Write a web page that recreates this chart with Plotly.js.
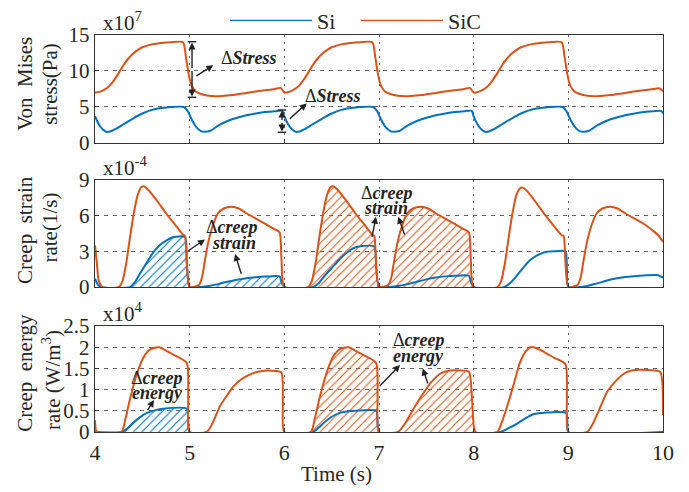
<!DOCTYPE html>
<html>
<head>
<meta charset="utf-8">
<script src="https://cdn.plot.ly/plotly-3.0.1.min.js"></script>
<style>html,body{margin:0;padding:0;background:#fff;}#chart{width:689px;height:492px;}</style>
</head>
<body>
<div id="chart"></div>
<script>
// ---------- DATA ----------
// Von Mises stress (x1e7 Pa)
const tSiCStress = [4.00,4.05,4.10,4.15,4.20,4.25,4.30,4.35,4.40,4.45,4.50,4.60,4.70,4.80,4.93,4.96,4.99,5.02,5.06,5.12,5.20,5.30,5.45,5.60,5.75,5.90,5.96,
  6.00,6.05,6.10,6.15,6.20,6.25,6.30,6.35,6.40,6.45,6.50,6.60,6.70,6.80,6.93,6.96,6.99,7.02,7.06,7.12,7.20,7.30,7.45,7.60,7.75,7.90,7.96,
  8.00,8.05,8.10,8.15,8.20,8.25,8.30,8.35,8.40,8.45,8.50,8.60,8.70,8.80,8.93,8.96,8.99,9.02,9.06,9.12,9.20,9.30,9.45,9.60,9.75,9.90,9.96,10.00];
const sicStress = [7.0,7.1,7.4,7.9,8.7,9.7,10.8,11.7,12.4,12.9,13.3,13.7,13.9,14.0,14.0,12.0,9.5,8.0,7.2,6.8,6.55,6.5,6.65,6.95,7.25,7.5,7.65,
  7.0,7.1,7.4,7.9,8.7,9.7,10.8,11.7,12.4,12.9,13.3,13.7,13.9,14.0,14.0,12.0,9.5,8.0,7.2,6.8,6.55,6.5,6.65,6.95,7.25,7.5,7.65,
  7.0,7.1,7.4,7.9,8.7,9.7,10.8,11.7,12.4,12.9,13.3,13.7,13.9,14.0,14.0,12.0,9.5,8.0,7.2,6.8,6.55,6.5,6.65,6.95,7.25,7.5,7.6,7.2];
const tSiStress = [4.00,4.04,4.08,4.12,4.16,4.22,4.30,4.40,4.50,4.60,4.70,4.80,4.94,4.98,5.02,5.07,5.12,5.16,5.22,5.30,5.40,5.50,5.60,5.70,5.80,5.90,5.98,
  6.00,6.04,6.08,6.12,6.16,6.22,6.30,6.40,6.50,6.60,6.70,6.80,6.94,6.98,7.02,7.07,7.12,7.16,7.22,7.30,7.40,7.50,7.60,7.70,7.80,7.90,7.98,
  8.00,8.04,8.08,8.12,8.16,8.22,8.30,8.40,8.50,8.60,8.70,8.80,8.94,8.98,9.02,9.07,9.12,9.16,9.22,9.30,9.40,9.50,9.60,9.70,9.80,9.90,9.98,10.00];
const siStress = [3.7,2.6,1.9,1.55,1.6,1.95,2.6,3.4,4.1,4.6,4.85,5.0,5.0,4.4,3.3,2.2,1.65,1.55,1.7,2.4,3.05,3.5,3.85,4.1,4.3,4.42,4.47,
  3.7,2.6,1.9,1.55,1.6,1.95,2.6,3.4,4.1,4.6,4.85,5.0,5.0,4.4,3.3,2.2,1.65,1.55,1.7,2.4,3.05,3.5,3.85,4.1,4.3,4.42,4.47,
  3.7,2.6,1.9,1.55,1.6,1.95,2.6,3.4,4.1,4.6,4.85,5.0,5.0,4.4,3.3,2.2,1.65,1.55,1.7,2.4,3.05,3.5,3.85,4.1,4.3,4.42,4.45,4.1];

// Creep strain rate (x1e-4 1/s)
const tSiCStrain = [4.00,4.02,4.04,4.08,4.25,4.29,4.33,4.37,4.41,4.45,4.49,4.52,4.56,4.65,4.75,4.85,4.93,4.95,4.97,5.00,
  5.10,5.13,5.16,5.20,5.25,5.30,5.36,5.44,5.52,5.60,5.70,5.80,5.90,5.95,5.97,6.00,
  6.25,6.29,6.33,6.37,6.41,6.45,6.49,6.52,6.56,6.65,6.75,6.85,6.93,6.95,6.97,7.00,
  7.10,7.13,7.16,7.20,7.25,7.30,7.36,7.44,7.52,7.60,7.70,7.80,7.90,7.95,7.97,8.00,
  8.25,8.29,8.33,8.37,8.41,8.45,8.49,8.52,8.56,8.65,8.75,8.85,8.93,8.95,8.97,9.00,
  9.10,9.13,9.16,9.20,9.25,9.30,9.36,9.44,9.52,9.60,9.70,9.80,9.90,9.95,10.00];
const sicStrain = [3.5,2.0,0.5,0.0,0.0,0.5,2.0,4.2,6.2,7.7,8.4,8.45,8.2,7.3,6.2,5.2,4.4,4.3,2.0,0.0,
  0.2,0.8,2.2,3.9,5.3,6.2,6.6,6.75,6.6,6.2,5.75,5.3,4.85,4.6,2.3,0.0,
  0.0,0.5,2.0,4.2,6.2,7.7,8.4,8.45,8.2,7.3,6.2,5.2,4.4,4.3,2.0,0.0,
  0.2,0.8,2.2,3.9,5.3,6.2,6.6,6.75,6.6,6.2,5.75,5.3,4.85,4.6,2.3,0.0,
  0.0,0.5,2.0,4.2,6.2,7.7,8.3,8.35,8.1,7.2,6.1,5.1,4.35,4.3,2.0,0.0,
  0.2,0.8,2.2,3.9,5.3,6.2,6.6,6.75,6.6,6.2,5.75,5.3,4.7,4.35,3.8];
const tSiStrain = [4.00,4.03,4.06,4.37,4.42,4.48,4.55,4.61,4.68,4.76,4.83,4.95,4.97,5.00,
  5.10,5.20,5.30,5.40,5.50,5.60,5.70,5.80,5.95,5.97,6.00,
  6.30,6.36,6.42,6.50,6.58,6.66,6.74,6.82,6.95,6.97,7.00,
  7.10,7.20,7.30,7.40,7.50,7.60,7.70,7.80,7.95,7.97,8.00,
  8.32,8.38,8.45,8.52,8.60,8.68,8.76,8.85,8.97,8.985,9.00,
  9.12,9.20,9.30,9.41,9.50,9.60,9.69,9.80,9.95,10.00];
const siStrain = [0.7,0.2,0.0,0.0,0.4,1.2,2.1,2.85,3.5,3.95,4.2,4.2,2.0,0.0,
  0.0,0.1,0.25,0.45,0.62,0.75,0.83,0.88,0.9,0.45,0.0,
  0.0,0.3,0.9,1.6,2.3,2.9,3.3,3.45,3.4,1.7,0.0,
  0.0,0.1,0.25,0.45,0.65,0.8,0.9,0.95,0.95,0.45,0.0,
  0.0,0.3,0.9,1.6,2.3,2.7,2.95,3.0,3.0,1.5,0.0,
  0.0,0.1,0.3,0.55,0.72,0.85,0.92,0.98,1.0,0.8];

// Creep energy rate (x1e4 W/m^3)
const tSiCEnergy = [4.00,4.02,4.28,4.32,4.37,4.44,4.51,4.57,4.62,4.68,4.75,4.85,4.97,4.985,5.00,
  5.18,5.24,5.32,5.40,5.46,5.55,5.64,5.72,5.81,5.90,5.97,5.985,6.00,
  6.28,6.32,6.37,6.44,6.51,6.57,6.62,6.68,6.75,6.85,6.97,6.985,7.00,
  7.20,7.26,7.34,7.40,7.47,7.55,7.65,7.75,7.85,7.95,7.985,8.02,
  8.25,8.30,8.36,8.42,8.49,8.55,8.60,8.66,8.75,8.85,8.97,8.985,9.00,
  9.20,9.26,9.34,9.41,9.50,9.59,9.67,9.75,9.85,9.97,10.00];
const sicEnergy = [0.28,0.0,0.0,0.3,0.78,1.35,1.75,1.93,1.98,2.0,1.92,1.8,1.63,0.8,0.0,
  0.0,0.2,0.61,0.88,1.07,1.25,1.36,1.42,1.45,1.44,1.4,0.7,0.0,
  0.0,0.3,0.78,1.35,1.75,1.93,1.98,2.0,1.92,1.8,1.63,0.8,0.0,
  0.0,0.15,0.45,0.68,0.92,1.17,1.38,1.45,1.45,1.42,0.7,0.0,
  0.0,0.25,0.65,1.1,1.65,1.9,2.0,1.98,1.88,1.75,1.6,0.8,0.0,
  0.0,0.2,0.6,0.95,1.2,1.38,1.45,1.47,1.46,1.42,0.4];
const tSiEnergy = [4.00,4.28,4.34,4.40,4.47,4.55,4.63,4.72,4.97,4.985,5.00,
  6.30,6.36,6.43,6.50,6.59,6.68,6.75,6.97,6.985,7.00,
  8.28,8.36,8.46,8.55,8.63,8.72,8.77,8.98,8.99,9.00,10.00];
const siEnergy = [0.0,0.0,0.08,0.21,0.34,0.45,0.51,0.55,0.55,0.25,0.0,
  0.0,0.1,0.24,0.36,0.45,0.49,0.5,0.5,0.25,0.0,
  0.0,0.08,0.2,0.33,0.42,0.45,0.46,0.45,0.22,0.0,0.0];

// hatched intervals [start, end] (s)
const hatchSiStrain = [4.30, 6.00];
const hatchSiCStrain = [6.00, 8.00];
const hatchSiEnergy = [4.20, 5.00];
const hatchSiCEnergy = [6.00, 8.02];

const xTicks = [4,5,6,7,8,9,10];
const y1Ticks = [0,5,10,15];
const y2Ticks = [0,3,6,9];
const y3Ticks = [0,0.5,1,1.5,2,2.5];
const y3TickText = ['0','0.5','1','1.5','2','2.5'];
const seriesNames = ['Si','SiC'];

// ---------- STYLE ----------
const BLUE = '#0072BD', ORANGE = '#D95319';
const FONT = 'Liberation Serif';
const TXT = '#262626';
const SMOOTH = 0.6;

function seg(t, v, r) {
  const xs = [], ys = [];
  t.forEach((x, i) => { if (x >= r[0] - 1e-9 && x <= r[1] + 1e-9) { xs.push(x); ys.push(v[i]); } });
  return {xs, ys};
}
function hatch(t, v, r, color, xa, ya) {
  const s = seg(t, v, r);
  return {x: s.xs, y: s.ys, xaxis: xa, yaxis: ya, type: 'scatter', mode: 'lines',
    line: {width: 0, color: color, shape: 'spline', smoothing: SMOOTH}, fill: 'tozeroy', fillcolor: 'rgba(255,255,255,0)',
    fillpattern: {shape: '/', fgcolor: color, bgcolor: 'rgba(255,255,255,0)', size: 6, solidity: 0.18},
    showlegend: false, hoverinfo: 'skip'};
}
function line(t, v, color, name, xa, ya) {
  return {x: t, y: v, xaxis: xa, yaxis: ya, type: 'scatter', mode: 'lines', name: name,
    line: {color: color, width: 2, shape: 'spline', smoothing: SMOOTH}, showlegend: false};
}
function legendEntry(color, name, lg) {
  return {x: [null], y: [null], xaxis: 'x', yaxis: 'y', type: 'scatter', mode: 'lines', name: name,
    line: {color: color, width: 1.2}, showlegend: true, legend: lg};
}

const traces = [
  hatch(tSiStrain, siStrain, hatchSiStrain, BLUE, 'x2', 'y2'),
  hatch(tSiCStrain, sicStrain, hatchSiCStrain, ORANGE, 'x2', 'y2'),
  hatch(tSiEnergy, siEnergy, hatchSiEnergy, BLUE, 'x3', 'y3'),
  hatch(tSiCEnergy, sicEnergy, hatchSiCEnergy, ORANGE, 'x3', 'y3'),
  line(tSiStress, siStress, BLUE, seriesNames[0], 'x', 'y'),
  line(tSiCStress, sicStress, ORANGE, seriesNames[1], 'x', 'y'),
  line(tSiStrain, siStrain, BLUE, seriesNames[0], 'x2', 'y2'),
  line(tSiCStrain, sicStrain, ORANGE, seriesNames[1], 'x2', 'y2'),
  line(tSiEnergy, siEnergy, BLUE, seriesNames[0], 'x3', 'y3'),
  line(tSiCEnergy, sicEnergy, ORANGE, seriesNames[1], 'x3', 'y3'),
  legendEntry(BLUE, seriesNames[0], 'legend'),
  legendEntry(ORANGE, seriesNames[1], 'legend2')
];

function xax(anchor, labels) {
  return {anchor: anchor, range: [4, 10], tickvals: xTicks, showticklabels: labels,
    showline: true, mirror: true, linecolor: '#333', linewidth: 1.3,
    showgrid: true, gridcolor: '#666', gridwidth: 1, griddash: '2px,5px',
    zeroline: false, ticks: 'inside', ticklen: 4, tickcolor: '#333',
    tickfont: {family: FONT, size: 22, color: TXT}};
}
function yax(anchor, domain, range, vals, text) {
  const a = {anchor: anchor, domain: domain, range: range, tickvals: vals,
    showline: true, mirror: true, linecolor: '#333', linewidth: 1.3,
    showgrid: true, gridcolor: '#666', gridwidth: 1, griddash: '4px,5px',
    zeroline: false, ticks: 'inside', ticklen: 4, tickcolor: '#333',
    tickfont: {family: FONT, size: 21, color: TXT}};
  if (text) a.ticktext = text;
  return a;
}

const annFont = {family: FONT, size: 18, color: '#222'};
function txt(x, y, s, xr, yr) {
  return {x: x, y: y, xref: xr, yref: yr, text: s, showarrow: false, font: annFont, xanchor: 'center', yanchor: 'middle'};
}
function arr(x0, y0, x1, y1, xr, yr) {
  return {x: x1, y: y1, ax: x0, ay: y0, xref: xr, yref: yr, axref: xr, ayref: yr, text: '',
    showarrow: true, arrowhead: 2, arrowsize: 1, arrowwidth: 1.4, arrowcolor: '#222'};
}
function ytitle(x, y, s) {
  return {x: x, y: y, xref: 'paper', yref: 'paper', text: s, showarrow: false, textangle: -90,
    font: {family: FONT, size: 21, color: TXT}, xanchor: 'center', yanchor: 'middle'};
}
function expo(ya, s) {
  return {x: 0.01, y: 1, xref: 'x domain', yref: ya + ' domain', text: s, showarrow: false,
    xanchor: 'left', yanchor: 'bottom', yshift: -2, font: {family: FONT, size: 21, color: TXT}};
}

const annotations = [
  expo('y', 'x10<sup>7</sup>'),
  expo('y2', 'x10<sup>-4</sup>'),
  expo('y3', 'x10<sup>4</sup>'),
  ytitle(-0.1232, 0.877, 'Von\u00a0\u00a0Mises'),
  ytitle(-0.0792, 0.877, 'stress(Pa)'),
  ytitle(-0.1232, 0.509, 'Creep\u00a0\u00a0strain'),
  ytitle(-0.0792, 0.515, 'rate(1/s)'),
  ytitle(-0.1232, 0.149, 'Creep\u00a0\u00a0energy'),
  ytitle(-0.0757, 0.131, 'rate\u00a0(W/m<sup>3</sup>)'),
  {x: 0.426, y: -0.105, xref: 'paper', yref: 'paper', text: 'Time\u00a0(s)', showarrow: false,
    font: {family: FONT, size: 21, color: TXT}, xanchor: 'center', yanchor: 'middle'},
  // panel 1
  txt(5.63, 11.8, 'Δ<b><i>Stress</i></b>', 'x', 'y'),
  txt(6.51, 6.5, 'Δ<b><i>Stress</i></b>', 'x', 'y'),
  arr(5.056, 9.2, 5.25, 10.8, 'x', 'y'),
  arr(6.042, 3.19, 6.236, 5.5, 'x', 'y'),
  arr(5.025, 10.2, 5.025, 13.95, 'x', 'y'),
  arr(5.025, 10.2, 5.025, 6.45, 'x', 'y'),
  arr(5.975, 3.0, 5.975, 4.5, 'x', 'y'),
  arr(5.975, 3.0, 5.975, 1.6, 'x', 'y'),
  // panel 2
  txt(5.447, 5.05, 'Δ<b><i>creep</i></b>', 'x2', 'y2'),
  txt(5.468, 3.70, '<b><i>strain</i></b>', 'x2', 'y2'),
  txt(7.085, 7.9, 'Δ<b><i>creep</i></b>', 'x2', 'y2'),
  txt(7.074, 6.64, '<b><i>strain</i></b>', 'x2', 'y2'),
  arr(4.969, 2.97, 5.162, 4.0, 'x2', 'y2'),
  arr(5.55, 1.0, 5.479, 2.78, 'x2', 'y2'),
  arr(6.923, 4.1, 6.968, 5.9, 'x2', 'y2'),
  arr(7.275, 4.29, 7.204, 5.91, 'x2', 'y2'),
  // panel 3
  txt(4.655, 1.27, 'Δ<b><i>creep</i></b>', 'x3', 'y3'),
  txt(4.655, 0.92, '<b><i>energy</i></b>', 'x3', 'y3'),
  txt(7.42, 2.17, 'Δ<b><i>creep</i></b>', 'x3', 'y3'),
  txt(7.42, 1.79, '<b><i>energy</i></b>', 'x3', 'y3'),
  arr(4.546, 0.48, 4.623, 0.755, 'x3', 'y3'),
  arr(6.993, 1.05, 7.222, 1.58, 'x3', 'y3'),
  arr(7.521, 1.11, 7.462, 1.5, 'x3', 'y3')
];

function cap(x, y) {
  return {type: 'line', xref: 'x', yref: 'y', x0: x - 0.045, x1: x + 0.045, y0: y, y1: y,
    line: {color: '#222', width: 1.4}};
}
const shapes = [cap(5.025, 14.07), cap(5.025, 6.35), cap(5.975, 4.58), cap(5.975, 1.49)];

const legFont = {family: FONT, size: 22, color: TXT};
const layout = {
  width: 689, height: 492,
  margin: {l: 95, r: 26, t: 35, b: 60, autoexpand: false},
  paper_bgcolor: '#fff', plot_bgcolor: '#fff',
  font: {family: FONT, color: TXT},
  showlegend: true,
  legend: {orientation: 'h', x: 0.2289, xanchor: 'left', y: 1.089, yanchor: 'top',
    font: legFont, bgcolor: 'rgba(0,0,0,0)', itemwidth: 82},
  legend2: {orientation: 'h', x: 0.4595, xanchor: 'left', y: 1.089, yanchor: 'top',
    font: legFont, bgcolor: 'rgba(0,0,0,0)', itemwidth: 82},
  xaxis: xax('y', false),
  xaxis2: xax('y2', false),
  xaxis3: xax('y3', true),
  yaxis: yax('x', [0.728, 1], [0, 15], y1Ticks),
  yaxis2: yax('x2', [0.365, 0.635], [0, 9], y2Ticks),
  yaxis3: yax('x3', [0, 0.267], [0, 2.5], y3Ticks, y3TickText),
  annotations: annotations,
  shapes: shapes
};

Plotly.newPlot('chart', traces, layout, {staticPlot: true, displayModeBar: false});
</script>
</body>
</html>
